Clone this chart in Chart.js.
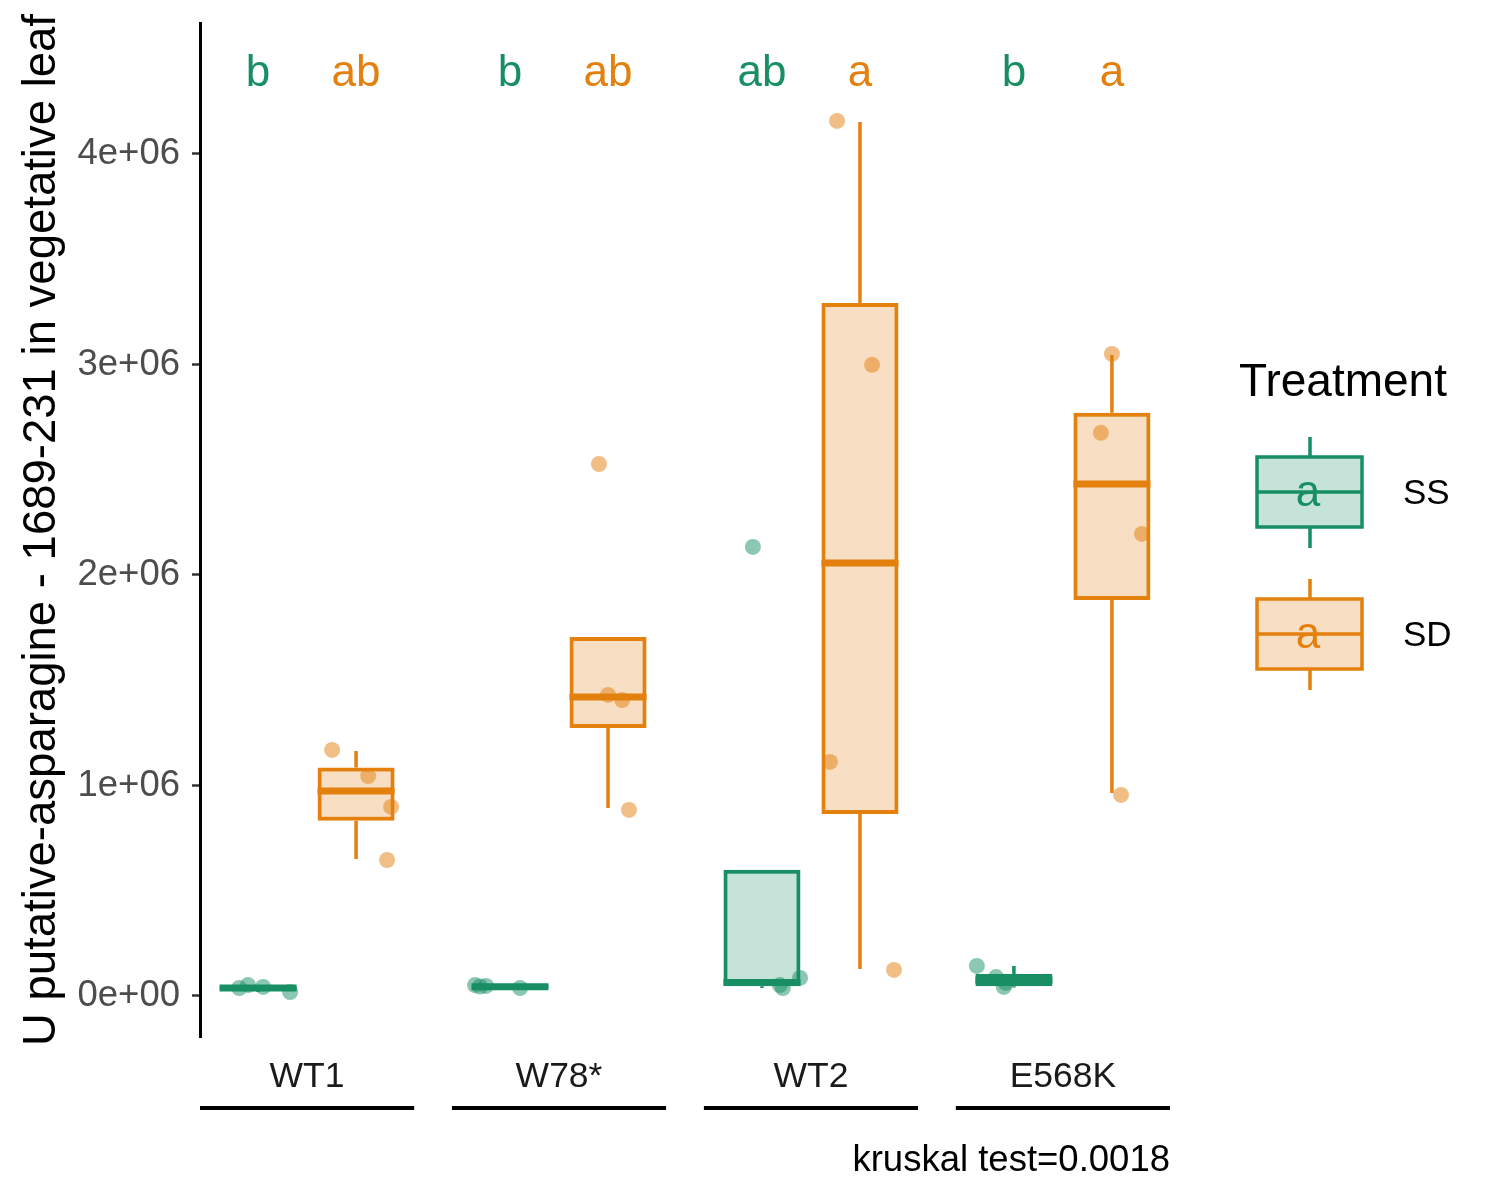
<!DOCTYPE html>
<html>
<head>
<meta charset="utf-8">
<script src="https://cdn.jsdelivr.net/npm/chart.js@4.4.1/dist/chart.umd.min.js"></script>
<style>
  html, body { margin: 0; padding: 0; background: #fff; }
  #wrap { width: 1500px; height: 1200px; }
</style>
</head>
<body>
<div id="wrap"><canvas id="boxChart" width="1500" height="1200"></canvas></div>
<script>
// Categories and treatments
const groups = ['WT1', 'W78*', 'WT2', 'E568K'];
const treatments = ['SS', 'SD'];

// Box statistics (lower whisker, q1, median, q3, upper whisker)
const ssLow  = [0.019e6, 0.036e6, 0.038e6, 0.040e6];
const ssQ1   = [0.030e6, 0.039e6, 0.046e6, 0.046e6];
const ssMed  = [0.038e6, 0.044e6, 0.064e6, 0.075e6];
const ssQ3   = [0.047e6, 0.050e6, 0.600e6, 0.104e6];
const ssHigh = [0.052e6, 0.052e6, 0.600e6, 0.143e6];

const sdLow  = [0.651e6, 0.893e6, 0.128e6, 0.964e6];
const sdQ1   = [0.832e6, 1.273e6, 0.865e6, 1.881e6];
const sdMed  = [0.974e6, 1.420e6, 2.057e6, 2.432e6];
const sdQ3   = [1.085e6, 1.705e6, 3.292e6, 2.770e6];
const sdHigh = [1.164e6, 1.705e6, 4.152e6, 3.045e6];

// Individual observations per group
const ssPoints = [
  [0.038e6, 0.052e6, 0.043e6, 0.019e6],
  [0.052e6, 0.045e6, 0.048e6, 0.038e6],
  [2.133e6, 0.052e6, 0.038e6, 0.086e6],
  [0.143e6, 0.090e6, 0.043e6, 0.062e6]
];
const sdPoints = [
  [1.169e6, 1.045e6, 0.898e6, 0.646e6],
  [2.527e6, 1.430e6, 1.406e6, 0.884e6],
  [4.157e6, 2.998e6, 1.112e6, 0.124e6],
  [3.050e6, 2.675e6, 2.195e6, 0.955e6]
];
// horizontal jitter of those points (in category units)
const ssJitter = [
  [-0.075, -0.040, 0.020, 0.127],
  [-0.139, -0.119, -0.095, 0.040],
  [-0.036, 0.071, 0.083, 0.151],
  [-0.147, -0.071, -0.040, -0.032]
];
const sdJitter = [
  [-0.095, 0.048, 0.139, 0.123],
  [-0.036, 0.000, 0.056, 0.083],
  [-0.091, 0.048, -0.119, 0.135],
  [0.000, -0.044, 0.119, 0.036]
];

// Significance letters
const ssLetters = ['b', 'b', 'ab', 'b'];
const sdLetters = ['ab', 'ab', 'a', 'a'];

// Y axis ticks
const yTicks = [0, 1e6, 2e6, 3e6, 4e6];
const yTickLabels = ['0e+00', '1e+06', '2e+06', '3e+06', '4e+06'];

const GREEN = '#178F63';
const ORANGE = '#E3800E';
const GREEN_FILL = 'rgba(23,143,99,0.25)';
const ORANGE_FILL = 'rgba(227,128,14,0.25)';
const GREEN_PT = 'rgba(23,143,99,0.5)';
const ORANGE_PT = 'rgba(227,128,14,0.5)';
const FONT = "'Liberation Sans', Arial, Helvetica, sans-serif";

// dodge layout (shared by bars, whiskers, medians)
const CAT_PCT = 0.778;
const BAR_PCT = 0.786;
const DODGE = CAT_PCT / 4;
const HALF_BOX = (CAT_PCT / 2) * BAR_PCT / 2;
const LETTER_Y = 4.323e6;

function boxData(q1, q3) {
  return groups.map((g, i) => ({ x: i + 1, y: [q1[i], q3[i]] }));
}

function whiskerData(low, q1, q3, high, side) {
  const pts = [];
  groups.forEach((g, i) => {
    const cx = i + 1 + side * DODGE;
    pts.push({ x: cx, y: low[i] }, { x: cx, y: q1[i] }, { x: cx, y: null });
    pts.push({ x: cx, y: q3[i] }, { x: cx, y: high[i] }, { x: cx, y: null });
  });
  return pts;
}

function medianData(med, side) {
  const pts = [];
  groups.forEach((g, i) => {
    const cx = i + 1 + side * DODGE;
    pts.push({ x: cx - HALF_BOX, y: med[i] }, { x: cx + HALF_BOX, y: med[i] }, { x: cx, y: null });
  });
  return pts;
}

function pointData(values, jitter, side) {
  const pts = [];
  values.forEach((arr, i) => {
    arr.forEach((v, k) => {
      pts.push({ x: i + 1 + side * DODGE + jitter[i][k], y: v });
    });
  });
  return pts;
}

function noScalePadding(scale) {
  scale.paddingTop = 0;
  scale.paddingBottom = 0;
  scale.paddingLeft = 0;
  scale.paddingRight = 0;
}

const lineBase = { type: 'line', pointRadius: 0, pointHoverRadius: 0, spanGaps: false, borderCapStyle: 'butt', fill: false };

const annotate = {
  id: 'annotate',
  afterDraw(chart) {
    const { ctx, scales: { x, y } } = chart;
    ctx.save();

    // significance letters
    ctx.font = '44px ' + FONT;
    ctx.textAlign = 'center';
    ctx.textBaseline = 'alphabetic';
    groups.forEach((g, i) => {
      ctx.fillStyle = GREEN;
      ctx.fillText(ssLetters[i], x.getPixelForValue(i + 1 - DODGE), y.getPixelForValue(LETTER_Y));
      ctx.fillStyle = ORANGE;
      ctx.fillText(sdLetters[i], x.getPixelForValue(i + 1 + DODGE), y.getPixelForValue(LETTER_Y));
    });

    // lines under group labels
    ctx.strokeStyle = '#000';
    ctx.lineWidth = 4;
    groups.forEach((g, i) => {
      ctx.beginPath();
      ctx.moveTo(x.getPixelForValue(i + 1 - 0.425), 1108);
      ctx.lineTo(x.getPixelForValue(i + 1 + 0.425), 1108);
      ctx.stroke();
    });

    // caption
    ctx.fillStyle = '#000';
    ctx.font = '36.5px ' + FONT;
    ctx.textAlign = 'right';
    ctx.fillText('kruskal test=0.0018', x.right, 1171);

    // legend
    ctx.textAlign = 'left';
    ctx.font = '46px ' + FONT;
    ctx.fillText('Treatment', 1239, 396);
    const keys = [
      { top: 457, line: GREEN, fill: GREEN_FILL },
      { top: 599, line: ORANGE, fill: ORANGE_FILL }
    ];
    keys.forEach((k, j) => {
      const left = 1257, w = 105, h = 70, cx = 1310;
      ctx.fillStyle = k.fill;
      ctx.fillRect(left, k.top, w, h);
      ctx.strokeStyle = k.line;
      ctx.lineWidth = 3.5;
      ctx.strokeRect(left, k.top, w, h);
      ctx.beginPath();
      ctx.moveTo(cx, k.top - 20); ctx.lineTo(cx, k.top);
      ctx.moveTo(cx, k.top + h); ctx.lineTo(cx, k.top + h + 21);
      ctx.moveTo(left, k.top + h / 2); ctx.lineTo(left + w, k.top + h / 2);
      ctx.stroke();
      ctx.fillStyle = k.line;
      ctx.font = '44px ' + FONT;
      ctx.textAlign = 'center';
      ctx.fillText('a', cx - 2, k.top + h / 2 + 14);
      ctx.fillStyle = '#000';
      ctx.font = '35px ' + FONT;
      ctx.textAlign = 'left';
      ctx.fillText(treatments[j], 1403, k.top + h / 2 + 12);
    });
    ctx.restore();
  }
};

new Chart(document.getElementById('boxChart'), {
  type: 'bar',
  data: {
    datasets: [
      { label: 'SS', data: boxData(ssQ1, ssQ3), backgroundColor: GREEN_FILL, borderColor: GREEN, borderWidth: 4, borderSkipped: false, order: 3 },
      { label: 'SD', data: boxData(sdQ1, sdQ3), backgroundColor: ORANGE_FILL, borderColor: ORANGE, borderWidth: 4, borderSkipped: false, order: 3 },
      { ...lineBase, label: 'SS whiskers', data: whiskerData(ssLow, ssQ1, ssQ3, ssHigh, -1), borderColor: GREEN, borderWidth: 3.5, order: 2 },
      { ...lineBase, label: 'SD whiskers', data: whiskerData(sdLow, sdQ1, sdQ3, sdHigh, 1), borderColor: ORANGE, borderWidth: 3.5, order: 2 },
      { ...lineBase, label: 'SS median', data: medianData(ssMed, -1), borderColor: GREEN, borderWidth: 7, order: 1 },
      { ...lineBase, label: 'SD median', data: medianData(sdMed, 1), borderColor: ORANGE, borderWidth: 7, order: 1 },
      { type: 'line', label: 'SS points', data: pointData(ssPoints, ssJitter, -1), showLine: false, pointRadius: 8, pointHoverRadius: 8, pointBorderWidth: 0, pointBackgroundColor: GREEN_PT, order: 4 },
      { type: 'line', label: 'SD points', data: pointData(sdPoints, sdJitter, 1), showLine: false, pointRadius: 8, pointHoverRadius: 8, pointBorderWidth: 0, pointBackgroundColor: ORANGE_PT, order: 4 }
    ]
  },
  options: {
    responsive: false,
    animation: false,
    devicePixelRatio: 1,
    categoryPercentage: CAT_PCT,
    barPercentage: BAR_PCT,
    layout: { autoPadding: false, padding: { top: 23, right: 330, bottom: 0, left: 0 } },
    plugins: {
      legend: { display: false },
      tooltip: { enabled: false }
    },
    scales: {
      x: {
        type: 'linear',
        min: 0.575,
        max: 4.425,
        offset: false,
        afterBuildTicks: (scale) => { scale.ticks = groups.map((g, i) => ({ value: i + 1 })); },
        afterFit: (scale) => { scale.height = 163; noScalePadding(scale); },
        ticks: {
          callback: (value) => groups[value - 1],
          color: '#1a1a1a',
          font: { family: FONT, size: 35.5 },
          padding: 19,
          maxRotation: 0
        },
        grid: { display: false, drawTicks: false },
        border: { display: false }
      },
      y: {
        min: -0.1948e6,
        max: 4.622e6,
        afterBuildTicks: (scale) => { scale.ticks = yTicks.map(v => ({ value: v })); },
        afterFit: (scale) => { scale.width = 200; noScalePadding(scale); },
        ticks: {
          callback: (value) => yTickLabels[yTicks.indexOf(value)],
          color: '#4d4d4d',
          font: { family: FONT, size: 36.5 },
          padding: 12
        },
        grid: { display: true, drawOnChartArea: false, drawTicks: true, tickLength: 8, tickWidth: 2.5, tickColor: '#333' },
        border: { display: true, color: '#000', width: 3 },
        title: {
          display: true,
          text: 'U putative-asparagine - 1689-231 in vegetative leaf',
          color: '#000',
          font: { family: FONT, size: 45.5 },
          padding: { top: 15, bottom: 0 }
        }
      }
    }
  },
  plugins: [annotate]
});
</script>
</body>
</html>
